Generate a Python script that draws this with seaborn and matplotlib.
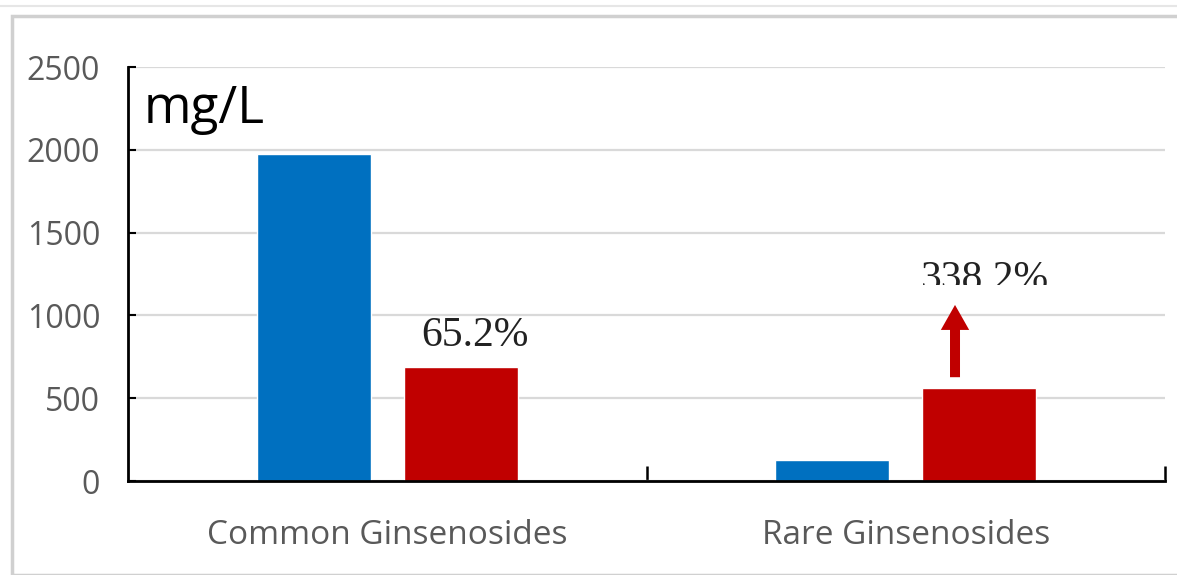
import matplotlib
matplotlib.use("Agg")
import matplotlib.pyplot as plt
from matplotlib.patches import Rectangle
from matplotlib.lines import Line2D
from matplotlib.transforms import Bbox
import seaborn as sns
import pandas as pd

categories = ["Common Ginsenosides", "Rare Ginsenosides"]
series_names = ["Before", "After"]
before_values = [1975, 128]
after_values = [689, 561]
change_labels = ["65.2%", "338.2%"]
y_ticks = [0, 500, 1000, 1500, 2000, 2500]
unit_label = "mg/L"

df = pd.DataFrame({
    "category": categories * 2,
    "series": [series_names[0]] * 2 + [series_names[1]] * 2,
    "value": before_values + after_values,
})

sns.set_theme(style="white")
plt.rcParams['font.family'] = ['Open Sans', 'DejaVu Sans']

fig = plt.figure(figsize=(11.77, 5.75), dpi=100)
ax = fig.add_axes([128/1177, 1-481/575, (1165-128)/1177, (481-67)/575])

sns.barplot(data=df, x="category", y="value", hue="series", order=categories,
            hue_order=series_names, palette=["#0070C0", "#C00000"],
            width=0.567, gap=0.224, saturation=1, ax=ax, legend=False)

ax.set_xlim(-0.5, 1.5)
ax.set_ylim(0, 2500)
ax.set_yticks(y_ticks)
ax.set_yticklabels([str(t) for t in y_ticks])
ax.set_xlabel("")
ax.set_ylabel("")
ax.yaxis.grid(True, color="#d9d9d9", linewidth=1.6)
ax.set_axisbelow(True)
for s in ["top", "right"]:
    ax.spines[s].set_visible(False)
for s in ["left", "bottom"]:
    ax.spines[s].set_color("black")
    ax.spines[s].set_linewidth(2)

ax.tick_params(axis="y", direction="in", length=6, width=1.5, color="black",
               labelsize=23, labelcolor="#595959", pad=20, left=True)
ax.tick_params(axis="x", which="major", length=0, labelsize=24,
               labelcolor="#595959", pad=27)
ax.set_xticks([0.5, 1.5], minor=True)
ax.tick_params(axis="x", which="minor", direction="in", length=11, width=1.8,
               color="black", bottom=True)

ax.text(0.015, 0.96, unit_label, transform=ax.transAxes, fontsize=37,
        color="black", ha="left", va="top")

ax.text(0.17, 880, change_labels[0], fontsize=30, family="Liberation Serif",
        ha="center", va="center", color="#222222")

t2 = ax.text(1.153, 1215, change_labels[1], fontsize=30, family="Liberation Serif",
             ha="center", va="center", color="#222222")
# mimic the cropped label in the original: keep only rows above ~285 px from top
t2.set_clip_box(Bbox.from_extents(0, 575 - 285, 1177, 575))
t2.set_clip_on(True)

ax.annotate("", xy=(1.095, 1080), xytext=(1.095, 610),
            arrowprops=dict(arrowstyle="simple,head_width=1.7,head_length=1.5,tail_width=0.6",
                            color="#C00000", lw=0))

# outer frame
fig.patches.append(Rectangle((12/1177, 0), 1.0, 1-16/575, transform=fig.transFigure,
                             fill=False, edgecolor="#d0d0d0", linewidth=2.5))
fig.lines.append(Line2D([0, 1], [1-6/575, 1-6/575], transform=fig.transFigure,
                        color="#e6e6e6", linewidth=1.5))

fig.savefig("out.png", dpi=100)
